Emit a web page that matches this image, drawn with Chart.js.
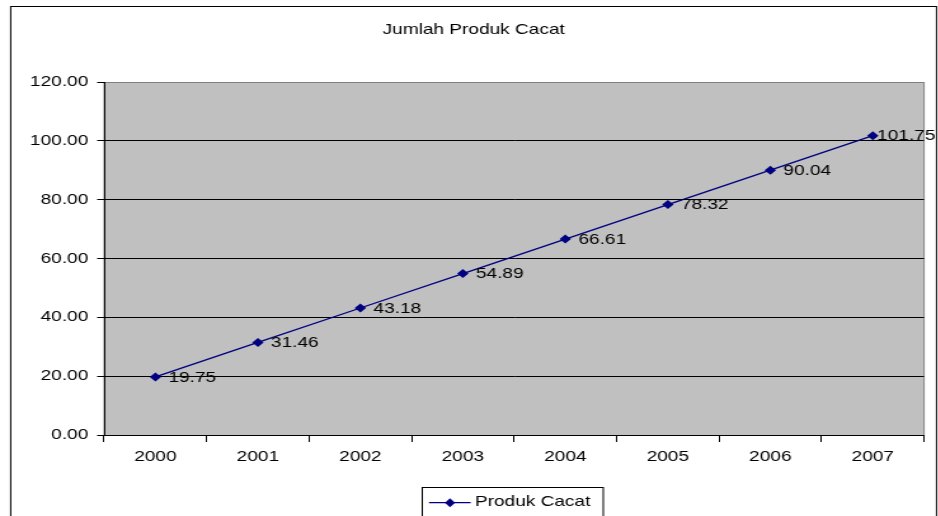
<!DOCTYPE html>
<html lang="id">
<head>
<meta charset="UTF-8">
<title>Jumlah Produk Cacat</title>
<script src="https://cdn.jsdelivr.net/npm/chart.js@4.4.1/dist/chart.umd.min.js"></script>
<style>
    html, body {
        margin: 0;
        padding: 0;
        background: #fff;
        overflow: hidden;
    }
    /* the chart is laid out narrow and stretched sideways, like the old spreadsheet export */
    .wrap {
        width: 739px;
        height: 516px;
        transform: scaleX(1.27);
        transform-origin: 0 0;
    }
</style>
</head>
<body>
<div class="wrap">
    <canvas id="grafik"></canvas>
</div>

<script>
const tahun = ["2000", "2001", "2002", "2003", "2004", "2005", "2006", "2007"];
const produkCacat = [19.75, 31.46, 43.18, 54.89, 66.61, 78.32, 90.04, 101.75];
const sumbuY = [0, 20, 40, 60, 80, 100, 120];

const judul = "Jumlah Produk Cacat";
const namaSeri = "Produk Cacat";
const biru = "#000080";
const huruf = '"Liberation Sans", Arial, sans-serif';

Chart.defaults.font.family = huruf;
Chart.defaults.font.size = 15;
Chart.defaults.color = "#000";

// background, borders, title, point labels and the boxed legend
const dekorasi = {
    id: "dekorasi",
    beforeDraw(chart) {
        const ctx = chart.ctx;
        const a = chart.chartArea;
        ctx.save();
        ctx.fillStyle = "#fff";
        ctx.fillRect(0, 0, chart.width, chart.height);

        ctx.strokeStyle = "#000";
        ctx.lineWidth = 1;
        ctx.strokeRect(8.4, 6.5, 729, 520);

        ctx.fillStyle = "#C0C0C0";
        ctx.fillRect(a.left, a.top, a.right - a.left, a.bottom - a.top);
        ctx.strokeStyle = "#808080";
        ctx.strokeRect(a.left, a.top + 0.5, a.right - a.left, a.bottom - a.top);

        ctx.fillStyle = "#000";
        ctx.font = "15px " + huruf;
        ctx.textAlign = "center";
        ctx.textBaseline = "alphabetic";
        ctx.fillText(judul, 373, 33.5);
        ctx.restore();
    },
    afterDatasetsDraw(chart) {
        const ctx = chart.ctx;
        const meta = chart.getDatasetMeta(0);
        ctx.save();
        ctx.font = "15px " + huruf;
        ctx.fillStyle = "#000";
        ctx.textAlign = "left";
        ctx.textBaseline = "middle";
        meta.data.forEach((pt, i) => {
            const teks = produkCacat[i].toFixed(2);
            const lebar = ctx.measureText(teks).width;
            const x = Math.min(pt.x + 10.3, 736.5 - lebar);
            ctx.fillText(teks, x, pt.y + 0.5);
        });
        ctx.restore();
    },
    afterDraw(chart) {
        const ctx = chart.ctx;
        ctx.save();
        ctx.strokeStyle = "#000";
        ctx.lineWidth = 1;
        ctx.strokeRect(332.5, 487.5, 142.5, 40);

        ctx.strokeStyle = biru;
        ctx.lineWidth = 1.3;
        ctx.beginPath();
        ctx.moveTo(337.8, 502.7);
        ctx.lineTo(370.6, 502.7);
        ctx.stroke();

        ctx.fillStyle = biru;
        ctx.beginPath();
        ctx.moveTo(354.3, 498.2);
        ctx.lineTo(358.3, 502.7);
        ctx.lineTo(354.3, 507.2);
        ctx.lineTo(350.3, 502.7);
        ctx.closePath();
        ctx.fill();

        ctx.fillStyle = "#000";
        ctx.font = "15px " + huruf;
        ctx.textAlign = "left";
        ctx.textBaseline = "alphabetic";
        ctx.fillText(namaSeri, 374, 505.5);
        ctx.restore();
    }
};

new Chart(document.getElementById("grafik"), {
    type: "line",
    data: {
        labels: tahun,
        datasets: [{
            label: namaSeri,
            data: produkCacat,
            borderColor: biru,
            backgroundColor: biru,
            borderWidth: 1.3,
            pointStyle: "rectRot",
            pointRadius: 4.5,
            pointBorderWidth: 0,
            pointBackgroundColor: biru,
            tension: 0
        }]
    },
    options: {
        responsive: true,
        maintainAspectRatio: false,
        animation: false,
        events: [],
        layout: {
            padding: { top: 82, left: 0, right: 11.4, bottom: 41 }
        },
        plugins: {
            legend: { display: false },
            title: { display: false },
            tooltip: { enabled: false }
        },
        scales: {
            x: {
                type: "category",
                offset: true,
                grid: {
                    offset: true,
                    drawOnChartArea: false,
                    drawTicks: true,
                    tickLength: 7,
                    color: "#000"
                },
                border: { color: "#000", width: 1 },
                ticks: { padding: 6, color: "#000", maxRotation: 0, autoSkip: false },
                afterFit(scale) { scale.height = 40; }
            },
            y: {
                min: 0,
                max: 120,
                afterBuildTicks(scale) {
                    scale.ticks = sumbuY.map(v => ({ value: v }));
                },
                grid: {
                    color: c => (c.tick && c.tick.value === 120) ? "#808080" : "#000",
                    tickColor: "#000",
                    tickLength: 5.5,
                    drawTicks: true
                },
                border: { color: "#000", width: 1 },
                ticks: {
                    padding: 7,
                    color: "#000",
                    callback: v => Number(v).toFixed(2)
                },
                afterFit(scale) { scale.width = 82; }
            }
        }
    },
    plugins: [dekorasi]
});
</script>
</body>
</html>
